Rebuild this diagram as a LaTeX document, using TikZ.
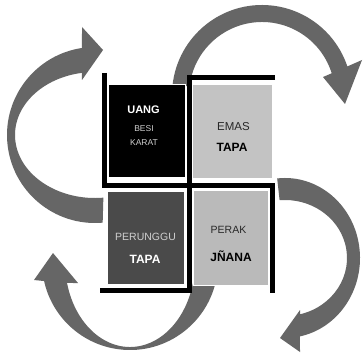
\documentclass[tikz,border=0pt]{standalone}
\usepackage{fontspec}
\setmainfont{Liberation Sans}
\definecolor{swirlgray}{HTML}{666666}
\definecolor{paleA}{HTML}{C3C3C3}
\definecolor{paleB}{HTML}{BABABA}
\definecolor{slate}{HTML}{4A4A4A}
\definecolor{ink}{HTML}{282828}
\definecolor{mist}{HTML}{D0D0D0}

\begin{document}
\begin{tikzpicture}[x=1pt, y=-1pt,
    cell/.style={draw=white, line width=1pt, inner sep=0pt},
    word/.style={inner sep=0pt, text height=1.38ex, text depth=0pt},
    bar/.style={line width=5.5pt, line join=miter}]

    \fill[white] (0,0) rectangle (363,358);
    \useasboundingbox (0,0) rectangle (363,358);

    % left arrow, bottom to top
    \fill[swirlgray] ([shift={(95,135)}]85:88) arc[start angle=85, end angle=261.5, radius=88]
        -- (82,27) -- (103,50) -- (82,80)
        -- ([shift={(95,135)}]260.6:80 and 63) arc[start angle=260.6, end angle=84, x radius=80, y radius=63] -- cycle;

    % top arrow, over to the right
    \fill[swirlgray] ([shift={(262,95)}]186:90) arc[start angle=186, end angle=341.5, radius=90]
        -- (362,60) -- (345,104) -- (323,77)
        -- ([shift={(262,95)}]342.7:73) arc[start angle=342.7, end angle=187, radius=73] -- cycle;

    % right arrow, down and back
    \fill[swirlgray] ([shift={(285,258)}]-96:75 and 80) arc[start angle=-96, end angle=78.5, x radius=75, y radius=80]
        -- (300,352) -- (280,338) -- (300,310)
        -- ([shift={(285,258)}]76:62 and 58) arc[start angle=76, end angle=-95, x radius=62, y radius=58] -- cycle;

    % bottom arrow, under and up
    \fill[swirlgray] ([shift={(130,262)}]10:88) arc[start angle=10, end angle=167.5, radius=88]
        -- (34,280) -- (53,253) -- (78,283)
        -- ([shift={(130,262)}]165.7:65 and 85) arc[start angle=165.7, end angle=12, x radius=65, y radius=85] -- cycle;

    % four cells
    \node[cell, fill=black, minimum width=77pt, minimum height=92pt] (besibox) at (146.5,131) {};
    \node[cell, fill=paleA, minimum width=80pt, minimum height=93pt] (emasbox) at (232,131.5) {};
    \node[cell, fill=slate, minimum width=77pt, minimum height=93pt] (perunggubox) at (145.5,237.5) {};
    \node[cell, fill=paleB, minimum width=75pt, minimum height=95pt] (perakbox) at (230.5,237.5) {};

    % the bars round the cells
    \draw[bar] (104.5,73) -- (104.5,185.5) -- (272.5,185.5) -- (272.5,293);
    \draw[bar] (275,77.5) -- (189.5,77.5) -- (189.5,290.5) -- (100,290.5);

    % texts
    \node[word, text=white, font=\bfseries\fontsize{11}{13}\selectfont] (uang) at (143.5,110) {UANG};
    \node[word, text=mist, font=\fontsize{8.5}{10}\selectfont] (besi) at (144,128) {BESI};
    \node[word, text=mist, font=\fontsize{8.5}{10}\selectfont] (karat) at (144,142) {KARAT};

    \node[word, text=ink, font=\fontsize{11.5}{13}\selectfont] (emas) at (233.5,127) {EMAS};
    \node[word, text=black, font=\bfseries\fontsize{12}{14}\selectfont] (tapaA) at (232,147.5) {TAPA};

    \node[word, text=mist, font=\fontsize{10.5}{12}\selectfont] (perunggu) at (145.5,236.5) {PERUNGGU};
    \node[word, text=white, font=\bfseries\fontsize{12}{14}\selectfont] (tapaB) at (145,259.5) {TAPA};

    \node[word, text=ink, font=\fontsize{10.5}{12}\selectfont] (perak) at (228.5,229.5) {PERAK};
    \node[word, text=black, font=\bfseries\fontsize{12}{14}\selectfont] (jnana) at (231,258) {JÑANA};

\end{tikzpicture}
\end{document}
